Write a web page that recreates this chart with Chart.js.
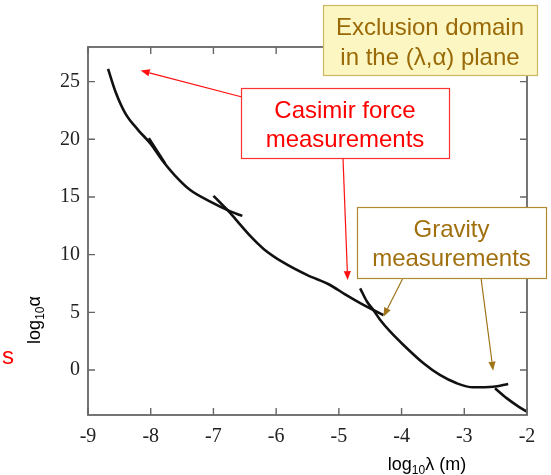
<!DOCTYPE html>
<html>
<head>
<meta charset="utf-8">
<script src="https://cdn.jsdelivr.net/npm/chart.js@4.4.1/dist/chart.umd.min.js"></script>
<style>
  html, body { margin: 0; padding: 0; background: #fff; }
</style>
</head>
<body>
<canvas id="chart" width="551" height="475"></canvas>
<script>
'use strict';

// ── DATA ─────────────────────────────────────────────────────

const X_TICKS = [-9, -8, -7, -6, -5, -4, -3, -2];
const Y_TICKS = [0, 5, 10, 15, 20, 25];

// Casimir limits, upper branch (ends flat near -6.5)
const CAS_A_X = [-8.68, -8.56, -8.4, -8.2, -8.0, -7.82, -7.62, -7.37, -7.05, -6.73, -6.54];
const CAS_A_Y = [26.1, 24.1, 22.2, 20.8, 19.6, 18.2, 16.9, 15.6, 14.6, 13.75, 13.36];

// short overlapping piece near -8
const CAS_S_X = [-8.03, -7.77];
const CAS_S_Y = [20.1, 17.9];

// Casimir limits, second branch
const CAS_B_X = [-7.0, -6.84, -6.73, -6.62, -6.41, -6.2, -5.88, -5.51, -5.14, -4.9, -4.66, -4.45, -4.29];
const CAS_B_Y = [15.1, 14.22, 13.6, 12.9, 11.6, 10.5, 9.3, 8.24, 7.37, 6.55, 5.8, 5.2, 4.77];

// gravity limits
const GRAV_X = [-4.66, -4.55, -4.45, -4.34, -4.18, -3.97, -3.65, -3.39, -3.12, -2.86, -2.54, -2.3];
const GRAV_Y = [7.08, 5.92, 5.2, 4.34, 3.32, 2.17, 0.58, -0.43, -1.15, -1.5, -1.45, -1.21];

// gravity limits, last branch
const GRAV_D_X = [-2.51, -2.32, -2.17, -2.0];
const GRAV_D_Y = [-1.59, -2.46, -3.04, -3.62];

// where the annotation arrows point (data units)
const ARROW_TIP_X = [-8.16, -4.86, -4.29, -2.54];
const ARROW_TIP_Y = [25.96, 7.8, 4.62, -0.06];

// ── LAYOUT ───────────────────────────────────────────────────

const SANS  = '"Liberation Sans", Arial, sans-serif';
const SERIF = '"Liberation Serif", "Times New Roman", serif';

const BOXES = [
  { x: 323, y: 5, w: 214, h: 70, fill: '#fbf6c2', stroke: '#cbb860', color: '#9a6a08',
    lines: [['Exclusion domain', 35], ['in the (λ,α) plane', 65]] },
  { x: 241, y: 88, w: 208, h: 70, fill: '#ffffff', stroke: '#ff3030', color: '#ff0000',
    lines: [['Casimir force', 118], ['measurements', 147]] },
  { x: 357, y: 207, w: 189, h: 71, fill: '#ffffff', stroke: '#b08a30', color: '#a0700f',
    lines: [['Gravity', 237], ['measurements', 266]] }
];

const ARROWS = [
  { from: [242, 97],  color: '#ff1010' },
  { from: [343, 158], color: '#ff1010' },
  { from: [403, 278], color: '#a07418' },
  { from: [481, 278], color: '#a07418' }
];

function pts(xs, ys) {
  return xs.map((x, i) => ({ x, y: ys[i] }));
}

function curve(xs, ys) {
  return {
    data: pts(xs, ys),
    showLine: true,
    borderColor: '#111111',
    borderWidth: 2.6,
    pointRadius: 0,
    cubicInterpolationMode: 'monotone',
    fill: false
  };
}

// text with a subscript, parts = [[text, size, dy], ...]
function drawParts(ctx, parts, cx, cy) {
  let total = 0;
  parts.forEach(p => { ctx.font = p[1] + 'px ' + SANS; total += ctx.measureText(p[0]).width; });
  let x = cx - total / 2;
  parts.forEach(p => {
    ctx.font = p[1] + 'px ' + SANS;
    ctx.fillText(p[0], x, cy + p[2]);
    x += ctx.measureText(p[0]).width;
  });
}

function arrow(ctx, x1, y1, x2, y2, color) {
  const a = Math.atan2(y2 - y1, x2 - x1);
  const L = 9, W = 3.6;
  const bx = x2 - L * Math.cos(a), by = y2 - L * Math.sin(a);
  ctx.strokeStyle = color;
  ctx.fillStyle = color;
  ctx.lineWidth = 1.2;
  ctx.beginPath();
  ctx.moveTo(x1, y1);
  ctx.lineTo(bx, by);
  ctx.stroke();
  ctx.beginPath();
  ctx.moveTo(x2, y2);
  ctx.lineTo(bx + W * Math.sin(a), by - W * Math.cos(a));
  ctx.lineTo(bx - W * Math.sin(a), by + W * Math.cos(a));
  ctx.closePath();
  ctx.fill();
}

// frame with inward ticks, titles, annotations
const decorPlugin = {
  id: 'decor',
  afterDraw(chart) {
    const ctx = chart.ctx;
    const a = chart.chartArea;
    const xs = chart.scales.x, ys = chart.scales.y;
    ctx.save();

    ctx.strokeStyle = '#666666';
    ctx.lineWidth = 1.8;
    ctx.strokeRect(a.left, a.top, a.right - a.left, a.bottom - a.top);
    ctx.lineWidth = 1.4;
    ctx.beginPath();
    X_TICKS.forEach(v => {
      const px = xs.getPixelForValue(v);
      ctx.moveTo(px, a.bottom); ctx.lineTo(px, a.bottom - 7);
      ctx.moveTo(px, a.top);    ctx.lineTo(px, a.top + 7);
    });
    Y_TICKS.forEach(v => {
      const py = ys.getPixelForValue(v);
      ctx.moveTo(a.left, py);  ctx.lineTo(a.left + 7, py);
      ctx.moveTo(a.right, py); ctx.lineTo(a.right - 7, py);
    });
    ctx.stroke();

    // axis titles
    ctx.fillStyle = '#000';
    ctx.textBaseline = 'alphabetic';
    ctx.textAlign = 'left';
    drawParts(ctx, [['log', 18, 0], ['10', 12, 4], ['λ (m)', 18, 0]], 427, 470);
    ctx.translate(40, 320);
    ctx.rotate(-Math.PI / 2);
    drawParts(ctx, [['log', 18, 0], ['10', 12, 4], ['α', 18, 0]], 0, 0);
    ctx.setTransform(1, 0, 0, 1, 0, 0);

    // stray red letter at the left edge
    ctx.fillStyle = '#ff0000';
    ctx.font = '24px ' + SANS;
    ctx.fillText('s', 2, 364);

    // arrows
    ARROWS.forEach((ar, i) => {
      const tx = xs.getPixelForValue(ARROW_TIP_X[i]);
      const ty = ys.getPixelForValue(ARROW_TIP_Y[i]);
      arrow(ctx, ar.from[0], ar.from[1], tx, ty, ar.color);
    });

    // boxes
    BOXES.forEach(b => {
      ctx.fillStyle = b.fill;
      ctx.fillRect(b.x, b.y, b.w, b.h);
      ctx.strokeStyle = b.stroke;
      ctx.lineWidth = 1.2;
      ctx.strokeRect(b.x + 0.5, b.y + 0.5, b.w, b.h);
      ctx.fillStyle = b.color;
      ctx.font = '24px ' + SANS;
      ctx.textAlign = 'center';
      b.lines.forEach(([t, y]) => ctx.fillText(t, b.x + b.w / 2, y));
    });

    ctx.restore();
  }
};

new Chart(document.getElementById('chart'), {
  type: 'scatter',
  data: {
    datasets: [
      curve(CAS_A_X, CAS_A_Y),
      curve(CAS_S_X, CAS_S_Y),
      curve(CAS_B_X, CAS_B_Y),
      curve(GRAV_X, GRAV_Y),
      curve(GRAV_D_X, GRAV_D_Y)
    ]
  },
  options: {
    responsive: false,
    animation: false,
    layout: { padding: { left: 0, top: 47, right: 24, bottom: 0 } },
    plugins: { legend: { display: false }, tooltip: { enabled: false } },
    scales: {
      x: {
        type: 'linear',
        min: -9, max: -2,
        afterBuildTicks: s => { s.ticks = X_TICKS.map(v => ({ value: v })); },
        afterFit: s => { s.height = 60; },
        grid: { display: false, drawTicks: false },
        border: { display: false },
        ticks: { color: '#222222', padding: 10, font: { family: SERIF, size: 20 } }
      },
      y: {
        type: 'linear',
        min: -3.9, max: 28,
        afterBuildTicks: s => { s.ticks = Y_TICKS.map(v => ({ value: v })); },
        afterFit: s => { s.width = 88; },
        grid: { display: false, drawTicks: false },
        border: { display: false },
        ticks: { color: '#222222', padding: 8, font: { family: SERIF, size: 20 } }
      }
    }
  },
  plugins: [decorPlugin]
});
</script>
</body>
</html>
